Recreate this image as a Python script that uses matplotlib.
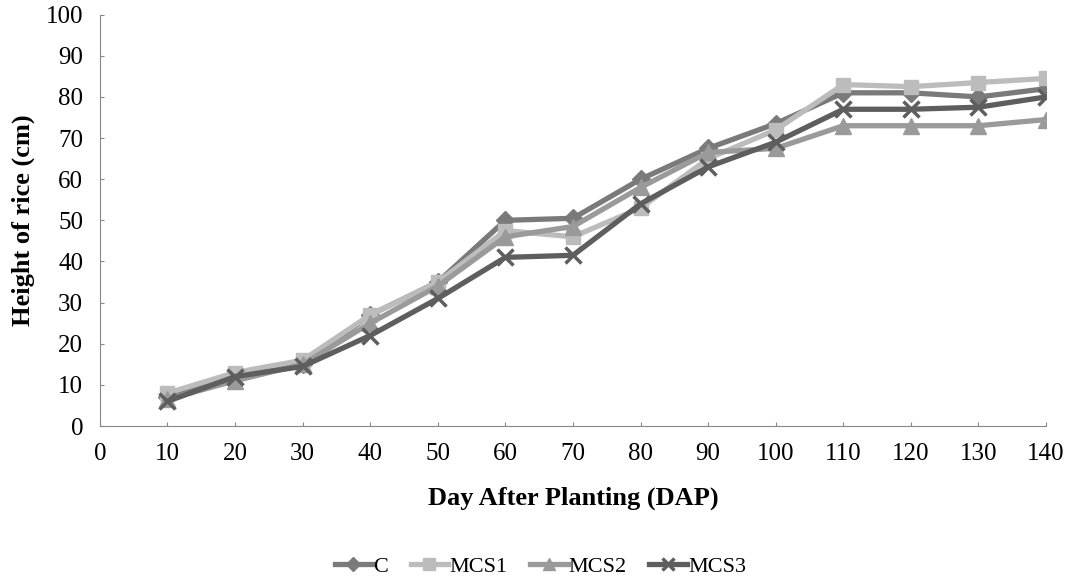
import matplotlib
matplotlib.use("Agg")
import matplotlib.pyplot as plt
from matplotlib.ticker import MultipleLocator

days = [10, 20, 30, 40, 50, 60, 70, 80, 90, 100, 110, 120, 130, 140]
c_vals = [7, 12, 15, 27, 35, 50, 50.5, 60, 67.5, 73.5, 81, 81, 80, 82]
mcs1_vals = [8, 13, 16, 27, 35, 47.5, 46, 53, 65, 72, 83, 82.5, 83.5, 84.5]
mcs2_vals = [6.5, 11, 15, 25, 34, 46, 48.5, 58, 66.5, 67.5, 73, 73, 73, 74.5]
mcs3_vals = [6, 12, 14.5, 22, 31, 41, 41.5, 54, 63, 69, 77, 77, 77.5, 80]
series_names = ["C", "MCS1", "MCS2", "MCS3"]

plt.rcParams['font.family'] = ['Liberation Serif', 'DejaVu Serif']

fig = plt.figure(figsize=(10.74, 5.86), dpi=100)
ax = fig.add_axes([0.093, 0.273, 0.881, 0.702])

styles = [
    dict(color="#7a7a7a", marker="D", ms=9),
    dict(color="#bcbcbc", marker="s", ms=10),
    dict(color="#9a9a9a", marker="^", ms=11),
    dict(color="#5e5e5e", marker="x", ms=11, mew=2.5),
]
for vals, name, st in zip([c_vals, mcs1_vals, mcs2_vals, mcs3_vals], series_names, styles):
    ax.plot(days, vals, label=name, lw=3.8, **st)

ax.set_xlim(0, 140)
ax.set_ylim(0, 100)
ax.xaxis.set_major_locator(MultipleLocator(10))
ax.yaxis.set_major_locator(MultipleLocator(10))
for s in ["top", "right"]:
    ax.spines[s].set_visible(False)
for s in ["left", "bottom"]:
    ax.spines[s].set_color("#888888")
    ax.spines[s].set_linewidth(0.8)
ax.tick_params(direction="in", length=3, color="#888888", labelsize=18, pad=12)

ax.set_xlabel("Day After Planting (DAP)", fontsize=19, fontweight="bold", labelpad=16)
ax.set_ylabel("Height of rice (cm)", fontsize=19, fontweight="bold", labelpad=8)

fig.legend(loc="center", bbox_to_anchor=(0.503, 0.033), ncol=4, frameon=False,
           fontsize=16, handlelength=1.7, columnspacing=1.0, handletextpad=0.05,
           markerscale=0.8)

fig.savefig("out.png", dpi=100)
